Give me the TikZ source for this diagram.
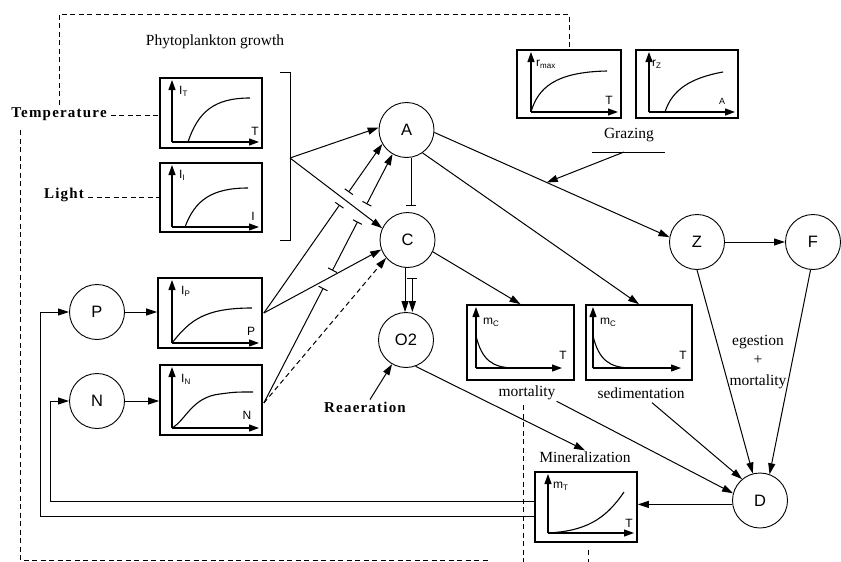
\documentclass[tikz,border=0pt]{standalone}
\usepackage{fontspec}
\setmainfont{Liberation Serif}
\setsansfont{Liberation Sans}
\usetikzlibrary{arrows.meta,calc}
\begin{document}
\begin{tikzpicture}[x=1pt,y=-1pt,
  state/.style={circle,draw,line width=0.9pt,minimum size=55pt,inner sep=0pt,font=\sffamily\fontsize{16.5}{16.5}\selectfont},
  gbox/.style={draw,line width=1.7pt,inner sep=0pt},
  arr/.style={line width=1pt,-{Triangle[length=11pt,width=7pt]}},
  barend/.style={line width=1pt,-{Bar[width=10pt]}},
  barbar/.style={line width=1pt,{Bar[width=10pt]}-{Bar[width=10pt]}},
  barstart/.style={line width=1pt,{Bar[width=10pt]}-{Triangle[length=11pt,width=7pt]}},
  axis/.style={line width=1.2pt,-{Triangle[length=10pt,width=7pt]}},
  curve/.style={line width=1.1pt},
  dsh/.style={line width=1pt,dash pattern=on 5pt off 3.5pt},
  lbl/.style={font=\fontsize{15.5}{17}\selectfont,inner sep=1pt},
  blbl/.style={font=\bfseries\fontsize{15}{17}\selectfont\addfontfeatures{LetterSpace=8},inner sep=2pt},
  glbl/.style={font=\sffamily\fontsize{12}{12}\selectfont,inner sep=0pt}
]
\useasboundingbox (0,0) rectangle (841,562);

% ---------- graph boxes ----------
\node[gbox,minimum width=102pt,minimum height=70pt] (bT) at (211,113) {};
\node[gbox,minimum width=102pt,minimum height=69pt] (bI) at (211,197.5) {};
\node[gbox,minimum width=104pt,minimum height=70pt] (bP) at (210,313) {};
\node[gbox,minimum width=102pt,minimum height=70pt] (bN) at (211,400) {};
\node[gbox,minimum width=104pt,minimum height=68pt] (bR) at (569,84) {};
\node[gbox,minimum width=102pt,minimum height=68pt] (bZ) at (687,84) {};
\node[gbox,minimum width=107pt,minimum height=75pt] (bM) at (520.5,342.5) {};
\node[gbox,minimum width=106pt,minimum height=75pt] (bS) at (639,342.5) {};
\node[gbox,minimum width=102pt,minimum height=70pt] (bMin) at (586,507) {};

% graph contents
% I_T
\draw[axis] (172,142) -- (172,80);
\draw[axis] (172,142) -- (259,142);
\draw[curve] (188,142) .. controls (198,112) and (214,98) .. (250,98);
\node[glbl,anchor=west] (lT) at (179,91) {I\textsubscript{T}};
\node[glbl] (xT) at (255,131) {T};
% I_I
\draw[axis] (172,227) -- (172,165);
\draw[axis] (172,227) -- (259,227);
\draw[curve] (185,227) .. controls (195,200) and (212,188) .. (248,188);
\node[glbl,anchor=west] (lI) at (179,175) {I\textsubscript{I}};
\node[glbl] (xI) at (253,216) {I};
% I_P
\draw[axis] (172,343) -- (172,280);
\draw[axis] (172,343) -- (259,343);
\draw[curve] (172,343) .. controls (190,320) and (205,308) .. (252,308);
\node[glbl,anchor=west] (lP) at (181,291) {I\textsubscript{P}};
\node[glbl] (xP) at (251,331) {P};
% I_N
\draw[axis] (172,428) -- (172,367);
\draw[axis] (172,428) -- (259,428);
\draw[curve] (172,428) .. controls (186,420) and (192,397) .. (220,394) .. controls (235,392) .. (253,392);
\node[glbl,anchor=west] (lN) at (181,379) {I\textsubscript{N}};
\node[glbl] (xN) at (247,415) {N};
% r_max
\draw[axis] (531,112) -- (531,52);
\draw[axis] (531,112) -- (618,112);
\draw[curve] (531,112) .. controls (538,88) and (555,72) .. (607,71);
\node[glbl,anchor=west] (lR) at (536,64) {r\textsubscript{max}};
\node[glbl] (xR) at (609,100) {T};
% r_Z
\draw[axis] (649,112) -- (649,52);
\draw[axis] (649,112) -- (735,112);
\draw[curve] (665,112) .. controls (672,90) and (690,78) .. (723,72);
\node[glbl,anchor=west] (lZ) at (652,64) {r\textsubscript{Z}};
\node[glbl,font=\sffamily\fontsize{9}{9}\selectfont] (xZ) at (722,101) {A};
% m_C mortality
\draw[axis] (476,368) -- (476,307);
\draw[axis] (476,368) -- (562,368);
\draw[curve] (476,336) .. controls (482,360) and (492,367) .. (512,368);
\node[glbl,anchor=west] (lM) at (483,322) {m\textsubscript{C}};
\node[glbl] (xM) at (563,355) {T};
% m_C sedimentation
\draw[axis] (593,368) -- (593,307);
\draw[axis] (593,368) -- (681,368);
\draw[curve] (593,336) .. controls (599,360) and (609,367) .. (629,368);
\node[glbl,anchor=west] (lS) at (600,322) {m\textsubscript{C}};
\node[glbl] (xS) at (683,355) {T};
% m_T mineralization
\draw[axis] (548,533) -- (548,474);
\draw[axis] (548,533) -- (634,533);
\draw[curve] (548,533) .. controls (585,531) and (605,520) .. (624,492);
\node[glbl,anchor=west] (lMin) at (553,486) {m\textsubscript{T}};
\node[glbl] (xMin) at (629,523) {T};

% ---------- state nodes ----------
\node[state] (A) at (406.5,130) {A};
\node[state] (C) at (407.5,240) {C};
\node[state] (O2) at (406,340) {O2};
\node[state] (Z) at (697,242) {Z};
\node[state] (F) at (813,242) {F};
\node[state] (D) at (760,500.5) {D};
\node[state] (P) at (97,312) {P};
\node[state] (N) at (97,401) {N};

% ---------- texts ----------
\node[lbl] (phy) at (215,42) {Phytoplankton growth};
\node[blbl,anchor=base] (temp) at (59,117) {Temperature};
\node[blbl,anchor=base] (light) at (64,198) {Light};
\node[lbl] (graz) at (629,135) {Grazing};
\node[lbl] (mortl) at (527,393) {mortality};
\node[lbl] (sedl) at (641,393) {sedimentation};
\node[lbl] (ege) at (758,342) {egestion};
\node[lbl] (plus) at (758,360) {+};
\node[lbl] (mort2) at (758,382) {mortality};
\node[lbl] (minl) at (585,457) {Mineralization};
\node[blbl] (rea) at (365,407) {Reaeration};

% ---------- bracket ----------
\draw[line width=1pt] (280,72) -- (290,72) -- (290,240) -- (280,240);
\coordinate (br) at (290,158);

% ---------- connectors ----------
\coordinate (pOut) at ($(bP.east)+(1,0)$);
\coordinate (nOut) at ($(bN.east)+(1,3)$);

\draw[arr] (br) -- (A.175);
\draw[arr] (br) -- (C.155);
\draw[arr] (pOut) -- (C.200);
\draw[arr,dash pattern=on 5pt off 3.5pt] (nOut) -- (C.220);

% I_P -> A, hopping over br->C
\draw[barend] (pOut) -- ($(pOut)!0.64!(A.210)$);
\draw[barstart] ($(pOut)!0.715!(A.210)$) -- (A.210);
% I_N -> A, hopping over pOut->C and br->C
\draw[barend] (nOut) -- ($(nOut)!0.462!(A.240)$);
\draw[barbar] ($(nOut)!0.532!(A.240)$) -- ($(nOut)!0.729!(A.240)$);
\draw[barstart] ($(nOut)!0.799!(A.240)$) -- (A.240);

% A -| C
\draw[barend,shorten >=6pt] (A.280) -- (A.280 |- C.north);
% C -> O2
\draw[arr] (C.265) -- (C.265 |- O2.north);
\draw[barstart,shorten <=10pt] (C.280) -- (C.280 |- O2.north);
\draw[arr] ($(rea.north)+(5,0)$) -- (O2.240);
\draw[arr] (O2.-70) -- (minl.north);

% A -> Z with grazing
\draw[arr] (A.355) -- coordinate[pos=0.478] (gz) (Z.170);
\coordinate (gl1) at (592,152);
\coordinate (gl2) at (665,152);
\coordinate (gzs) at (624,152);
\draw[line width=1pt] (gl1) -- (gl2);
\draw[arr] (gzs) -- (gz);
\draw[arr] (Z) -- (F);

\draw[arr] (C.335) -- (bM.north);
\draw[arr] (A.305) -- (bS.north);

\draw[arr] (mortl.south east) -- (D.165);
\draw[arr] ($(sedl.south)+(11,3)$) -- (D.130);
\draw[arr] (Z.270) -- (D.105);
\draw[arr] (F.265) -- (D.70);
\draw[arr] (D.188) -- (D.188 -| bMin.east);

% feedback to nutrients
\coordinate (xNf) at (50,0);
\coordinate (xPf) at (40,0);
\draw[arr] ($(bMin.west)+(0,-6)$) -| (xNf |- N.west) -- (N.west);
\draw[arr] ($(bMin.west)+(0,9)$) -| (xPf |- P.west) -- (P.west);
\draw[arr] (P.east) -- (P.east -| bP.west);
\draw[arr] (N.east) -- (N.east -| bN.west);

% ---------- dashed influence lines ----------
\coordinate (top) at (300,14);
\draw[dsh] (temp.north) |- (top) -| (bR.north);
\coordinate (tE) at ($(temp.base east)+(2,-2)$);
\coordinate (lE) at ($(light.base east)+(2,-1)$);
\draw[dsh] (tE) -- (tE -| bT.west);
\draw[dsh] (lE) -- (lE -| bI.west);
\coordinate (d1) at (20,130);
\coordinate (d2) at (20,560);
\coordinate (d3) at (490,560);
\draw[dsh] (d1) -- (d2) -- (d3);
\coordinate (d4) at (523,405);
\coordinate (d5) at (523,562);
\draw[dsh] (d4) -- (d5);
\coordinate (d6) at (588,550);
\coordinate (d7) at (588,562);
\draw[dsh] (d6) -- (d7);
\end{tikzpicture}
\end{document}
